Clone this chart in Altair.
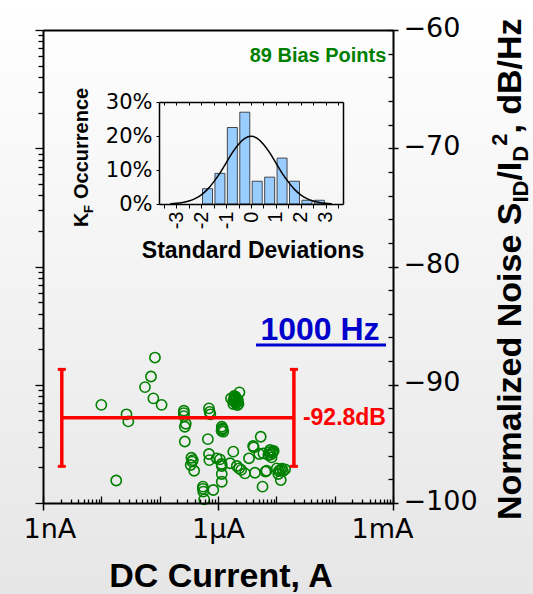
import altair as alt
import pandas as pd

# ---------------- data ----------------
# Bias points: drain current (A) and normalized drain-current noise at 1 kHz (dB/Hz)
current_a = [
    8.3e-8, 7.1e-8, 5.6e-8, 7.8e-8, 1.08e-7, 1.0e-8, 2.7e-8, 2.9e-8, 1.8e-8,
    2.6e-7, 2.6e-7, 2.7e-7, 2.7e-7, 7.0e-7, 7.4e-7, 6.7e-7, 1.16e-6, 1.19e-6, 1.23e-6,
    3.5e-7, 3.7e-7, 3.4e-7, 3.9e-7, 7.0e-7, 7.1e-7, 9.5e-7, 1.08e-6, 1.16e-6, 1.16e-6,
    1.16e-6, 1.83e-6, 1.61e-6, 2.1e-6, 5.5e-7, 5.6e-7, 8.3e-7, 5.8e-7,
    1.67e-6, 1.83e-6, 2.04e-6, 2.15e-6, 2.33e-6, 1.97e-6, 1.95e-6, 2.15e-6, 1.83e-6,
    2.24e-6, 1.9e-6, 2.06e-6,
    5.4e-6, 4.0e-6, 3.4e-6, 5.1e-6, 6.0e-6, 7.8e-6, 8.7e-6, 7.3e-6, 8.3e-6,
    2.3e-6, 2.9e-6, 4.3e-6, 6.8e-6, 1.02e-5, 1.16e-5, 1.41e-5, 1.08e-5, 1.19e-5, 5.8e-6,
    2.6e-7, 2.8e-7, 1.2e-6, 1.15e-6, 3.6e-7, 7.2e-7, 7.6e-6, 8.0e-6, 9.0e-6, 1.1e-5,
    1.3e-5, 1.25e-5, 6.5e-6, 2.2e-6, 1.9e-6, 2.0e-6, 4.1e-6, 5.5e-7, 1.15e-6, 2.5e-6, 8.5e-6,
]
noise_db = [
    -87.7, -89.3, -90.2, -91.15, -91.7, -91.7, -92.5, -93.1, -98.1,
    -92.2, -92.65, -93.55, -94.8, -92.0, -92.5, -94.6, -93.55, -93.77, -93.97,
    -96.17, -96.37, -96.79, -97.27, -95.86, -96.37, -96.22, -96.31, -96.87, -97.55,
    -98.2, -95.66, -96.64, -96.87, -98.62, -99.04, -98.9, -99.69,
    -91.15, -91.35, -91.57, -91.72, -90.64, -91.15, -91.1, -91.44, -91.63,
    -91.63, -90.95, -91.25,
    -94.4, -95.18, -96.22, -95.86, -95.8, -95.52, -95.66, -95.94, -96.14,
    -97.07, -97.49, -97.44, -97.27, -97.07, -97.21, -97.15, -97.55, -98.06, -98.62,
    -92.4, -93.3, -93.7, -93.9, -96.5, -92.3, -95.7, -95.9, -95.6, -97.3,
    -97.3, -97.1, -97.35, -91.3, -91.4, -91.0, -95.3, -98.8, -96.7, -97.2, -95.75,
]

# Mean level and spread marker
spread_x = [2.1e-9, 2.0e-5]
spread_mean = -92.8
spread_lo = -96.9
spread_hi = -88.7

# K_F histogram (share of the 89 bias points per half-sigma bin)
bin_center = [-1.75, -1.25, -0.75, -0.25, 0.25, 0.75, 1.25, 1.75, 2.25, 2.75]
bin_pct = [4.5, 9.0, 22.5, 27.0, 6.7, 7.9, 13.5, 6.7, 1.1, 1.1]

# Reference normal curve
curve_sd = [-3.25, -3.0, -2.75, -2.5, -2.25, -2.0, -1.75, -1.5, -1.25, -1.0, -0.75, -0.5,
            -0.25, 0.0, 0.25, 0.5, 0.75, 1.0, 1.25, 1.5, 1.75, 2.0, 2.25, 2.5, 2.75, 3.0, 3.25]
curve_pct = [0.1, 0.2, 0.45, 0.9, 1.6, 2.7, 4.3, 6.5, 9.1, 12.1, 15.1, 17.6,
             19.3, 19.9, 19.3, 17.6, 15.1, 12.1, 9.1, 6.5, 4.3, 2.7, 1.6, 0.9, 0.45, 0.2, 0.1]

x_tick_values = [1e-9, 1e-6, 1e-3]
x_tick_text = ["1nA", "1μA", "1mA"]
y_tick_values = [-100, -90, -80, -70, -60]

n_points_text = "89 Bias Points"
freq_text = "1000 Hz"
x_title = "DC Current, A"
inset_x_title = "Standard Deviations"

# ---------------- layout ----------------
W, H = 350, 473
BOLD = "Liberation Sans"
REG = "DejaVu Sans"
INSET_XR = [116, 300]
INSET_YR = [174, 72]

xs = alt.Scale(type="log", domain=[1e-9, 1e-3], nice=False)
ys = alt.Scale(domain=[-100, -60], nice=False, zero=False)

decade_test = "abs(log(datum.value)/LN10 - round(log(datum.value)/LN10)) < 0.001"

df = pd.DataFrame({"current": current_a, "noise": noise_db})

x_label_expr = (
    f"datum.value < 1e-8 ? '{x_tick_text[0]}' : "
    f"datum.value < 1e-5 ? '{x_tick_text[1]}' : '{x_tick_text[2]}'"
)

scatter = alt.Chart(df).mark_point(
    shape="circle", filled=False, color="#008000", size=105, strokeWidth=1.6, opacity=1
).encode(
    x=alt.X("current:Q", scale=xs, axis=alt.Axis(
        orient="bottom", values=x_tick_values, labelExpr=x_label_expr, title=None,
        tickSize=7, tickWidth=1.5, domainWidth=2, labelFont=REG, labelFontSize=27,
        labelPadding=6, labelFlush=True, labelFlushOffset=20, zindex=1)),
    y=alt.Y("noise:Q", scale=ys, axis=alt.Axis(
        orient="right", values=y_tick_values, title=None, tickSize=5, tickWidth=1.5,
        domainWidth=2, labelFont=REG, labelFontSize=27, labelPadding=5, labelOffset=-2,
        zindex=1)),
)

# inward minor ticks along the bottom and right edges, plus the top frame line
minor_x = [m * 10.0 ** e for e in range(-9, -3) for m in range(1, 10)] + [1e-3]
x_in = alt.Chart(pd.DataFrame({"v": minor_x})).mark_point(opacity=0).encode(
    x=alt.X("v:Q", scale=xs, axis=alt.Axis(
        orient="top", offset=-H, values=minor_x, labels=False, domain=False, title=None,
        tickWidth=1.3, zindex=1,
        tickSize={"condition": {"test": decade_test, "value": 7}, "value": 4}))
)
x_top = alt.Chart(pd.DataFrame({"v": minor_x})).mark_point(opacity=0).encode(
    x=alt.X("v:Q", scale=xs, axis=alt.Axis(
        orient="top", labels=False, ticks=False, title=None, domainWidth=2, zindex=1))
)
minor_y = list(range(-100, -58, 2))
y_in = alt.Chart(pd.DataFrame({"v": minor_y})).mark_point(opacity=0).encode(
    y=alt.Y("v:Q", scale=ys, axis=alt.Axis(
        orient="left", offset=-W, values=minor_y, labels=False, domain=False, title=None,
        tickWidth=1.3, tickSize=5, zindex=1))
)

RED = "#ff0000"
err_h = alt.Chart(pd.DataFrame({"a": [spread_x[0]], "b": [spread_x[1]], "m": [spread_mean]})).mark_rule(
    color=RED, strokeWidth=3.5).encode(
    x=alt.X("a:Q", scale=xs, axis=None), x2="b:Q", y=alt.Y("m:Q", scale=ys, axis=None))
err_v = alt.Chart(pd.DataFrame({"a": spread_x, "lo": [spread_lo] * 2, "hi": [spread_hi] * 2})).mark_rule(
    color=RED, strokeWidth=3.5).encode(
    x=alt.X("a:Q", scale=xs, axis=None), y=alt.Y("lo:Q", scale=ys, axis=None), y2="hi:Q")
err_caps = alt.Chart(pd.DataFrame({
    "a": [spread_x[0], spread_x[0], spread_x[1], spread_x[1]],
    "b": [spread_lo, spread_hi, spread_lo, spread_hi]})).mark_tick(
    color=RED, orient="horizontal", size=8, thickness=3, opacity=1).encode(
    x=alt.X("a:Q", scale=xs, axis=None), y=alt.Y("b:Q", scale=ys, axis=None))
err_label = alt.Chart(pd.DataFrame({"a": [spread_x[1]], "m": [spread_mean],
                                    "t": [f"{spread_mean}dB"]})).mark_text(
    color=RED, font=BOLD, fontWeight="bold", fontSize=23, align="left", baseline="middle", dx=9
).encode(x=alt.X("a:Q", scale=xs, axis=None), y=alt.Y("m:Q", scale=ys, axis=None), text="t:N")

main = alt.layer(scatter, x_in, x_top, y_in, err_h, err_v, err_caps, err_label).resolve_axis(
    x="independent", y="independent")

# unlabeled logarithmic axis on the left edge
left_ticks = [m * 10.0 ** e for e in range(0, 4) for m in range(1, 10)] + [1e4]
left_log = alt.Chart(pd.DataFrame({"v": left_ticks})).mark_point(opacity=0).encode(
    y=alt.Y("v:Q", scale=alt.Scale(type="log", domain=[1, 1e4], nice=False), axis=alt.Axis(
        orient="left", values=left_ticks, labels=False, title=None, domainWidth=2,
        tickWidth=1.3, zindex=1,
        tickSize={"condition": {"test": decade_test, "value": 8}, "value": 5}))
)

# ---------------- inset histogram ----------------
ix = alt.Scale(domain=[-3.5, 3.5], range=INSET_XR, nice=False, zero=False)
iy = alt.Scale(domain=[0, 30], range=INSET_YR, nice=False)
half_steps = [v / 2 for v in range(-7, 8)]

bars = alt.Chart(pd.DataFrame({"sd": bin_center, "pct": bin_pct})).mark_bar(
    size=10, fill="#99ccff", stroke="#222222", strokeWidth=0.8
).encode(
    x=alt.X("sd:Q", scale=ix, axis=alt.Axis(
        orient="bottom", offset=INSET_YR[0] - H, values=half_steps,
        labelExpr="datum.value == round(datum.value) ? '' + datum.value : ''",
        labelAngle=270, labelFont=BOLD, labelFontSize=20, labelPadding=3,
        tickSize=4, tickWidth=1, domainWidth=1.5, title=None, zindex=1)),
    y=alt.Y("pct:Q", scale=iy, axis=alt.Axis(
        orient="left", offset=-INSET_XR[0], values=[0, 10, 20, 30], labelExpr="datum.value + '%'",
        labelFont=REG, labelFontSize=21, labelPadding=4, tickSize=3, domainWidth=1.5,
        title=None, zindex=1)),
)
curve = alt.Chart(pd.DataFrame({"sd": curve_sd, "pct": curve_pct})).mark_line(
    color="black", strokeWidth=1.5, interpolate="monotone"
).encode(
    x=alt.X("sd:Q", scale=ix, axis=alt.Axis(
        orient="bottom", offset=INSET_YR[1] - H, values=half_steps, labels=False,
        tickSize=3, tickWidth=1, domainWidth=1.5, title=None, zindex=1)),
    y=alt.Y("pct:Q", scale=iy, axis=alt.Axis(
        orient="left", offset=-INSET_XR[1], ticks=False, labels=False, domainWidth=1.5,
        title=None, zindex=1)),
)
inset = alt.layer(bars, curve).resolve_axis(x="independent", y="independent")


# ---------------- text ----------------
def label(s, x, y, size, color="black", weight="bold", angle=0, align="center",
          baseline="middle", font=BOLD):
    return alt.Chart(pd.DataFrame({"t": [s]})).mark_text(
        font=font, fontSize=size, fontWeight=weight, color=color, angle=angle,
        align=align, baseline=baseline
    ).encode(text="t:N", x=alt.value(x), y=alt.value(y))


texts = [
    label(n_points_text, 275, 26, 20, color="#008000"),
    label(freq_text, 277, 300, 32, color="#0000cc"),
    label(x_title, 178, 557, 34, baseline="alphabetic"),
    label(inset_x_title, 210, 228, 23, baseline="alphabetic"),
    # K_F Occurrence
    label("K", 45, 197, 20, angle=270, align="left", baseline="alphabetic"),
    label("F", 50, 183, 13, angle=270, align="left", baseline="alphabetic"),
    label("Occurrence", 45, 169, 20, angle=270, align="left", baseline="alphabetic"),
    # Normalized Noise S_ID / I_D^2, dB/Hz
    label("Normalized Noise S", 478, 490, 34, angle=270, align="left", baseline="alphabetic"),
    label("ID", 485, 172.6, 22, angle=270, align="left", baseline="alphabetic"),
    label("/I", 478, 150.6, 34, angle=270, align="left", baseline="alphabetic"),
    label("D", 485, 131.7, 22, angle=270, align="left", baseline="alphabetic"),
    label("2", 464, 115.8, 22, angle=270, align="left", baseline="alphabetic"),
    label(", dB/Hz", 478, 103.6, 34, angle=270, align="left", baseline="alphabetic"),
]

underline = alt.Chart(pd.DataFrame({"t": [freq_text]})).mark_rule(
    color="#0000cc", strokeWidth=3).encode(
    x=alt.value(213), x2=alt.value(343), y=alt.value(315))

backdrop = alt.Chart(pd.DataFrame({"t": [0]})).mark_rect(
    color=alt.Gradient(gradient="linear", x1=0, x2=0, y1=0, y2=1,
                       stops=[alt.GradientStop(color="#ffffff", offset=0),
                              alt.GradientStop(color="#e6e6e6", offset=1)])
).encode(x=alt.value(-43), x2=alt.value(W + 140), y=alt.value(-30), y2=alt.value(H + 91))

chart = alt.layer(backdrop, main, left_log, inset, underline, *texts).resolve_scale(
    x="independent", y="independent"
).properties(
    width=W, height=H,
    padding={"left": 43, "top": 30, "right": 140, "bottom": 91},
    autosize=alt.AutoSizeParams(type="none"),
    background="#ffffff",
).configure_view(
    stroke=None
).configure_axis(
    grid=False, domainColor="black", tickColor="black", labelColor="black"
)

chart.save("out.html", embed_options={"renderer": "svg", "actions": False})
